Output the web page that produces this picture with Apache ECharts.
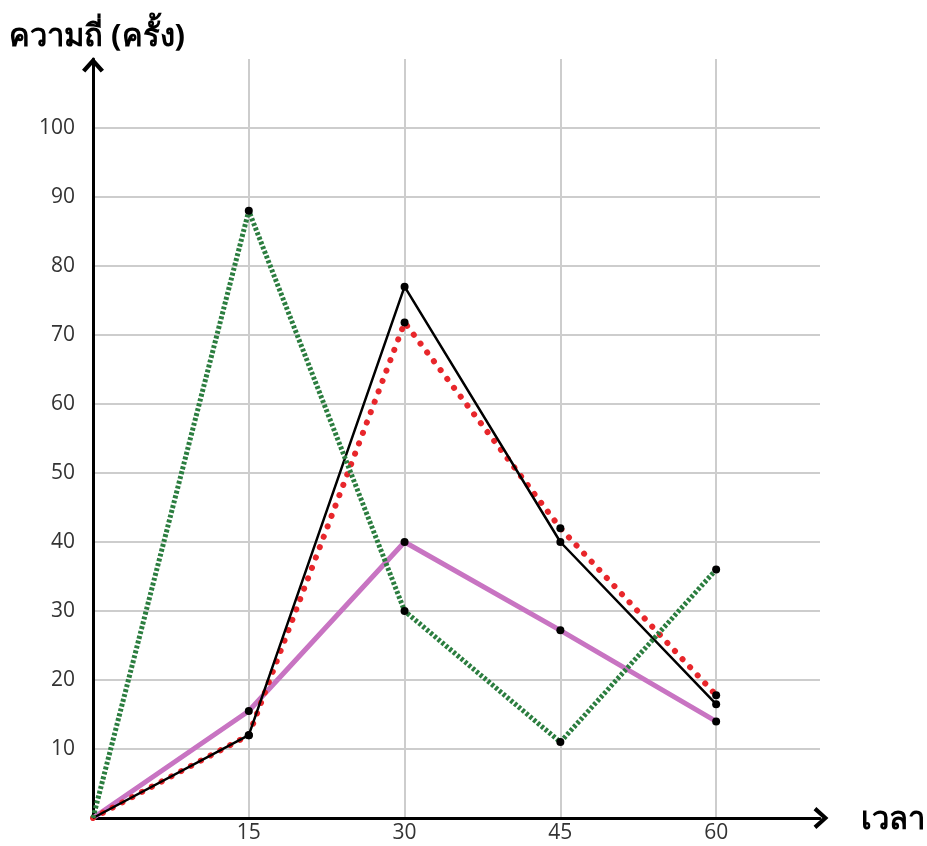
<!DOCTYPE html>
<html><head><meta charset="utf-8">
<script src="https://cdn.jsdelivr.net/npm/echarts@6/dist/echarts.min.js"></script>
<style>html,body{margin:0;padding:0;background:#fff}#c{width:927px;height:846px}</style>
</head><body><div id="c"></div>
<script>
const xValues = [0, 15, 30, 45, 60];
const greenSeries = [0, 88, 30, 11, 36];
const redSeries = [0, 12, 71.8, 42, 17.8];
const blackSeries = [0, 12, 77, 40, 16.5];
const purpleSeries = [0, 15.5, 40, 27.2, 14];
const yAxisName = 'ความถี่ (ครั้ง)';
const xAxisName = 'เวลา';

const pairs = arr => xValues.map((x, i) => [x, arr[i]]);
const chevron = 'path://M0,11 L10,0 L20,11 L17,13.5 L10,5.5 L3,13.5 Z';
const symSize = (v, p) => p.dataIndex === 0 ? 0 : 8;
const font = '"Open Sans","Noto Sans","DejaVu Sans",sans-serif';

const chart = echarts.init(document.getElementById('c'));
chart.setOption({
  animation: false,
  grid: { left: 93, right: 107, top: 59, bottom: 28, containLabel: false },
  xAxis: {
    type: 'value', min: 0, max: 70, interval: 15,
    axisLine: { show: true, lineStyle: { color: '#000', width: 3 }, symbol: ['none', chevron], symbolSize: [22, 15], symbolOffset: [0, 1] },
    axisTick: { show: false },
    axisLabel: { color: '#333', fontSize: 21, fontFamily: font, margin: 5,
      formatter: v => (v > 0 && v <= 60) ? String(v) : '' },
    splitLine: { show: true, showMinLine: false, showMaxLine: false, lineStyle: { color: '#cdcdcd', width: 2 } }
  },
  yAxis: {
    type: 'value', min: 0, max: 110, interval: 10,
    axisLine: { show: true, lineStyle: { color: '#000', width: 3 }, symbol: ['none', chevron], symbolSize: [22, 15], symbolOffset: [0, -6] },
    axisTick: { show: false },
    axisLabel: { color: '#333', fontSize: 21, fontFamily: font, margin: 18,
      formatter: v => (v > 0 && v <= 100) ? String(v) : '' },
    splitLine: { show: true, showMinLine: false, showMaxLine: false, lineStyle: { color: '#cdcdcd', width: 2 } }
  },
  graphic: [
    { type: 'text', left: 9, top: 22, style: { text: yAxisName, font: 'bold 31px ' + font, fill: '#000' } },
    { type: 'text', left: 861, top: 805, style: { text: xAxisName, font: 'bold 31px ' + font, fill: '#000' } }
  ],
  series: [
    { type: 'line', data: pairs(purpleSeries), z: 2, symbol: 'circle', symbolSize: symSize,
      lineStyle: { color: '#c874c2', width: 5 }, itemStyle: { color: '#000' } },
    { type: 'line', data: pairs(redSeries), z: 3, symbol: 'circle', symbolSize: symSize,
      lineStyle: { color: '#e8262b', width: 6, type: [0.1, 11], cap: 'round' }, itemStyle: { color: '#000' } },
    { type: 'line', data: pairs(blackSeries), z: 4, symbol: 'circle', symbolSize: symSize,
      lineStyle: { color: '#000', width: 2.5 }, itemStyle: { color: '#000' } },
    { type: 'line', data: pairs(greenSeries), z: 5, symbol: 'circle', symbolSize: symSize,
      lineStyle: { color: '#2b7d3f', width: 5, type: [3, 2] }, itemStyle: { color: '#000' } }
  ]
});
</script></body></html>
